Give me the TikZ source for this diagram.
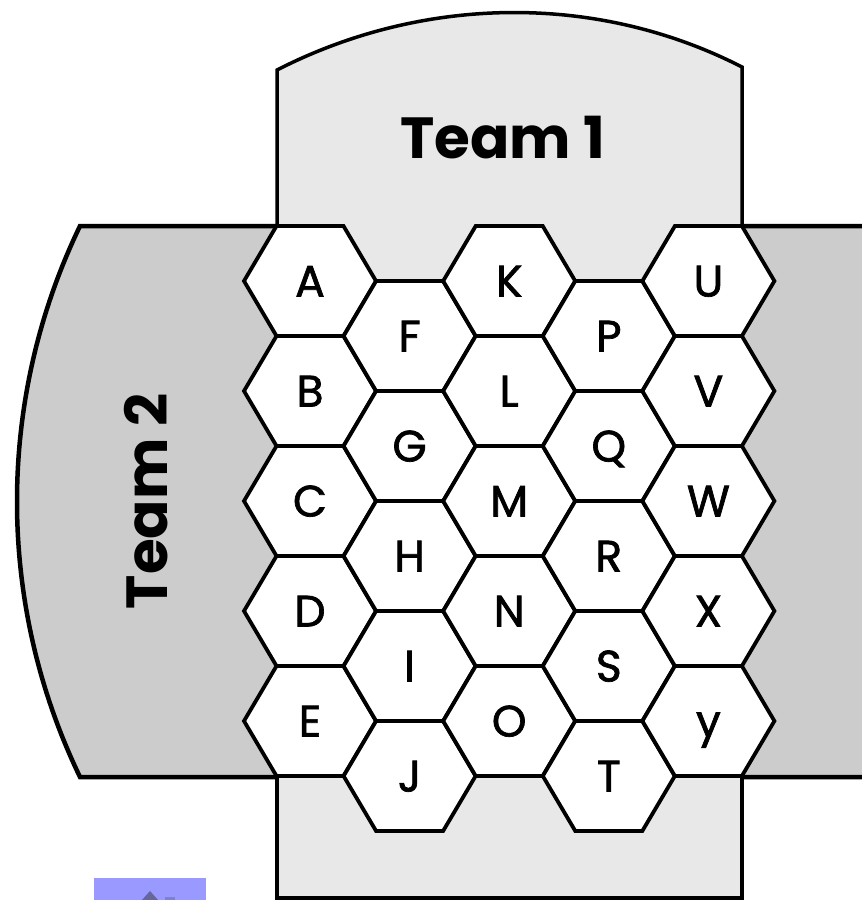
\documentclass[tikz,border=0pt]{standalone}
\usepackage{fontspec}
\setmainfont{Poppins}
\newfontfamily\hexfont[FakeBold=1.6]{Poppins}
\definecolor{panelgray}{HTML}{E8E8E8}
\definecolor{bandgray}{HTML}{CCCCCC}
\definecolor{btnblue}{HTML}{9999FF}
\definecolor{btndark}{HTML}{666699}
\definecolor{btnmid}{HTML}{8080CC}
\begin{document}
\begin{tikzpicture}[x=1pt,y=-1pt,
  outline/.style={draw=black,line width=3.5pt,line join=miter},
  bandline/.style={draw=black,line width=4.5pt,line join=miter},
  hexline/.style={draw=black,fill=white,line width=3.8pt,line join=miter},
  hexlabel/.style={font=\hexfont\fontsize{44}{44}\selectfont,inner sep=0pt,text height=31pt,text depth=0pt},
  teamlabel/.style={font=\fontsize{58}{58}\selectfont\bfseries,inner sep=0pt}]
\clip (0,0) rectangle (862,900);
\fill[white] (0,0) rectangle (862,900);
% Team 2 band
\path[fill=bandgray,bandline] (880,226) -- (80,226) .. controls (-4,400) and (-4,603) .. (80,777) -- (880,777);
% Team 1 panel
\fill[panelgray] (277,70) .. controls (422.6,-4.6) and (596.4,-7.6) .. (742,67) -- (742,898) -- (277,898) -- cycle;
\draw[outline] (277,226) -- (277,70) .. controls (422.6,-4.6) and (596.4,-7.6) .. (742,67) -- (742,226);
\draw[outline] (277,777) -- (277,898) -- (742,898) -- (742,777);
% labels
\node[teamlabel] (team1) at (503,138) {Team 1};
\node[teamlabel,rotate=90] (team2) at (146,501) {Team 2};
% hexagons
\foreach \L [count=\i from 0] in {A,B,C,D,E,F,G,H,I,J,K,L,M,N,O,P,Q,R,S,T,U,V,W,X,y}{
  \pgfmathsetmacro\cx{310+99.6*int(\i/5)}
  \pgfmathsetmacro\cy{281+110*mod(\i,5)+55*mod(int(\i/5),2)}
  \draw[hexline] (\cx+66,\cy) -- (\cx+33.5,\cy-55) -- (\cx-33.5,\cy-55) -- (\cx-66,\cy) -- (\cx-33.5,\cy+55) -- (\cx+33.5,\cy+55) -- cycle;
  \node[hexlabel] (hex\L) at (\cx,\cy) {\L};
}
% partial button at bottom left
\fill[btnblue] (94,878) rectangle (206,900);
\fill[btndark] (150,891) -- (158,900) -- (142,900) -- cycle;
\fill[btnmid] (165,897) rectangle (175,900);
\end{tikzpicture}
\end{document}
